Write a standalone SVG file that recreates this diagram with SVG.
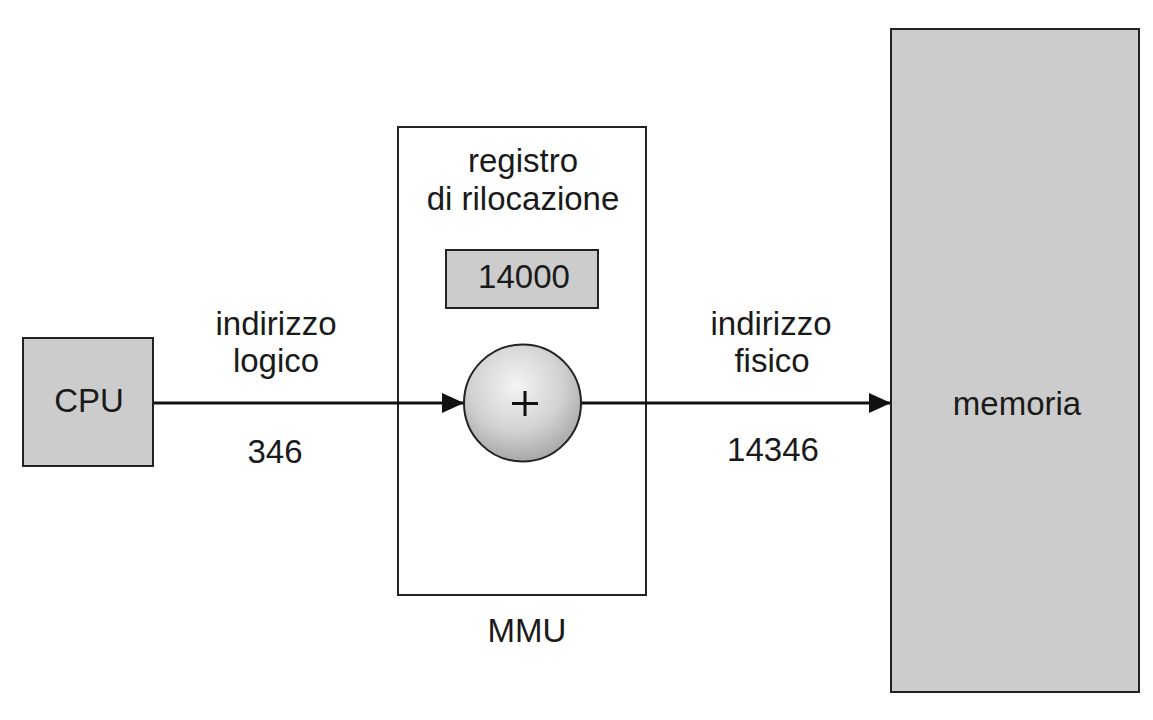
<svg xmlns="http://www.w3.org/2000/svg" width="1153" height="720" viewBox="0 0 1153 720">
<defs>
<style>
.t{font-family:"Liberation Sans",Arial,sans-serif;font-size:33px;fill:#1a1a1a;text-anchor:middle}
.box{fill:#cccccc;stroke:#222;stroke-width:2}
.wbox{fill:#fff;stroke:#222;stroke-width:2}
.conn{stroke:#111;stroke-width:3;fill:none}
</style>
<radialGradient id="sph" cx="0.45" cy="0.35" r="0.65">
<stop offset="0" stop-color="#f4f4f4"/>
<stop offset="0.6" stop-color="#d2d2d2"/>
<stop offset="1" stop-color="#a8a8a8"/>
</radialGradient>
<marker id="ah" markerWidth="22" markerHeight="20" refX="22" refY="10" orient="auto" markerUnits="userSpaceOnUse">
<path d="M0,0 L22,10 L0,20 Z" fill="#111"/>
</marker>
</defs>
<rect width="1153" height="720" fill="#fff"/>
<g id="mmu">
<rect class="wbox" x="398" y="127" width="248" height="468"/>
<text class="t" x="523" y="172">registro</text>
<text class="t" x="523" y="210">di rilocazione</text>
<text class="t" x="527" y="642">MMU</text>
</g>
<g id="connectors">
<line class="conn" x1="153" y1="403" x2="464" y2="403" marker-end="url(#ah)"/>
<line class="conn" x1="581" y1="403" x2="891" y2="403" marker-end="url(#ah)"/>
</g>
<g id="cpu">
<rect class="box" x="23" y="338" width="130" height="128"/>
<text class="t" x="89" y="412">CPU</text>
</g>
<g id="registro">
<rect class="box" x="446" y="250" width="152" height="58"/>
<text class="t" x="524" y="288">14000</text>
</g>
<g id="adder">
<circle cx="522.5" cy="403" r="58.5" fill="url(#sph)" stroke="#222" stroke-width="2"/>
<path d="M512,403.5 H538 M525,391 V416" stroke="#111" stroke-width="3"/>
</g>
<g id="memoria">
<rect class="box" x="891" y="29" width="248" height="663"/>
<text class="t" x="1017" y="415">memoria</text>
</g>
<g id="labels">
<text class="t" x="276" y="335">indirizzo</text>
<text class="t" x="276" y="372">logico</text>
<text class="t" x="275" y="463">346</text>
<text class="t" x="771" y="335">indirizzo</text>
<text class="t" x="772" y="372">fisico</text>
<text class="t" x="773" y="461">14346</text>
</g>
</svg>
